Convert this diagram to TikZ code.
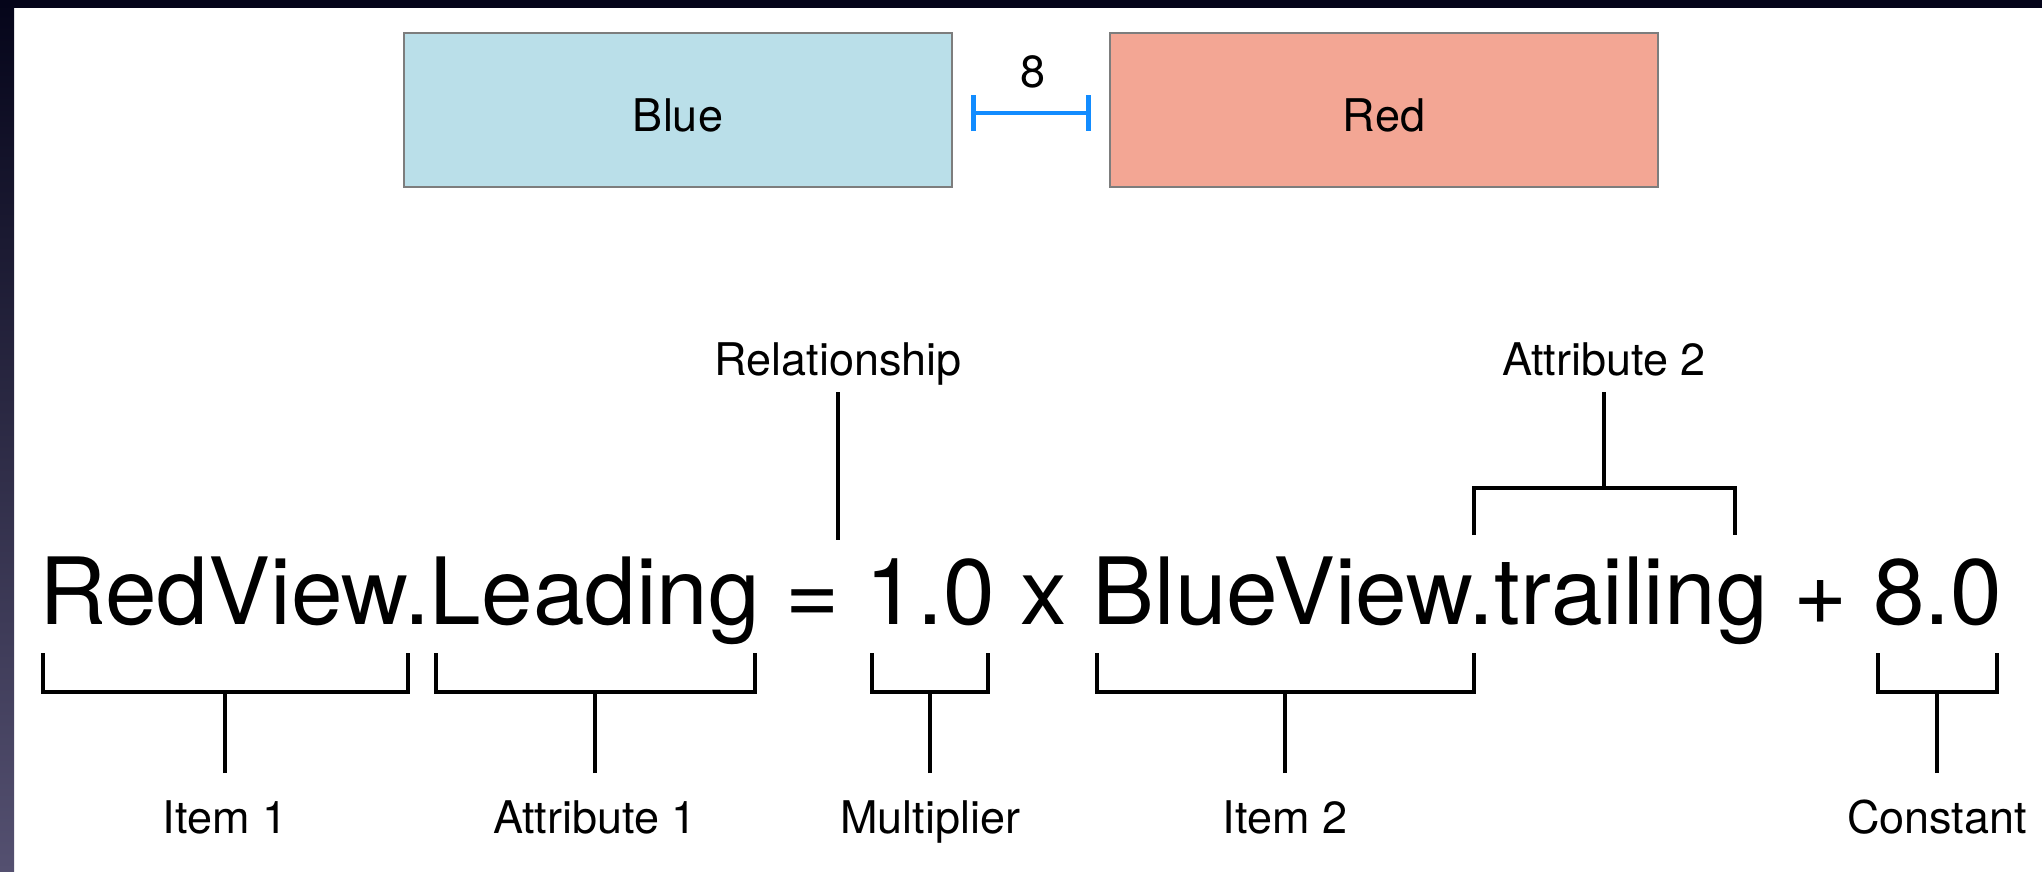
\documentclass[tikz,border=0pt]{standalone}
\usepackage{fontspec}
\setmainfont{TeX Gyre Heros}
\usetikzlibrary{arrows.meta}

\definecolor{viewblue}{RGB}{186,223,233}
\definecolor{viewred}{RGB}{243,166,148}
\definecolor{edgegray}{RGB}{125,125,125}
\definecolor{spacing}{RGB}{18,140,255}
\definecolor{rimtop}{RGB}{5,5,26}
\definecolor{rimbottom}{RGB}{84,80,112}

\tikzset{
  view/.style={draw=edgegray, line width=2.5pt, inner sep=0pt,
    minimum width=548pt, minimum height=154pt, font=\fontsize{45}{54}\selectfont,
    text height=42pt, text depth=0pt},
  tag/.style={anchor=base, inner sep=0pt, font=\fontsize{45}{54}\selectfont,
    text height=33pt, text depth=0pt},
  tagabove/.style={tag, outer ysep=17pt},
  tagbelow/.style={tag, outer ysep=27pt},
  brace/.style={line width=3.5pt},
}

\begin{document}
\begin{tikzpicture}[x=1pt, y=-1pt]
\useasboundingbox (0,0) rectangle (2042,871);
\fill[white] (0,0) rectangle (2042,871);
\shade[top color=rimtop, bottom color=rimbottom] (0,0) rectangle (14,871);
\fill[rimtop] (0,0) rectangle (2042,8);

% the two views and the gap between them
\node[view, fill=viewblue] (blue) at (678,110) {Blue};
\node[view, fill=viewred] (red) at (1384,110) {Red};
\draw[spacing, line width=4.5pt, {Bar[width=36pt]}-{Bar[width=36pt]}]
  ([xshift=18pt,yshift=-3pt]blue.east) -- ([xshift=-18pt,yshift=-3pt]red.west);
\node[tag] (gap) at (1033,87) {8};

% the constraint
\node[anchor=base west, inner sep=0pt, font=\fontsize{92.8}{110}\selectfont] (eq) at (39,624)
  {RedView.Leading = 1.0 x BlueView.trailing + 8.0};

\node[tagabove] (rel) at (838,375) {Relationship};
\draw[brace] (rel) -- (838,540);

\node[tagabove] (attr2) at (1604,375) {Attribute 2};
\draw[brace] (1474,535) |- (1735,488) -- (1735,535);
\draw[brace] (attr2) -- (1604,488);

\node[tagbelow] (item1) at (225,833) {Item 1};
\draw[brace] (43,653) |- (408,692) -- (408,653);
\draw[brace] (item1) -- (225,692);

\node[tagbelow] (attr1) at (595,833) {Attribute 1};
\draw[brace] (436,653) |- (755,692) -- (755,653);
\draw[brace] (attr1) -- (595,692);

\node[tagbelow] (mult) at (930,833) {Multiplier};
\draw[brace] (872,653) |- (988,692) -- (988,653);
\draw[brace] (mult) -- (930,692);

\node[tagbelow] (item2) at (1285,833) {Item 2};
\draw[brace] (1097,653) |- (1474,692) -- (1474,653);
\draw[brace] (item2) -- (1285,692);

\node[tagbelow] (const) at (1937,833) {Constant};
\draw[brace] (1878,653) |- (1997,692) -- (1997,653);
\draw[brace] (const) -- (1937,692);

\end{tikzpicture}
\end{document}
